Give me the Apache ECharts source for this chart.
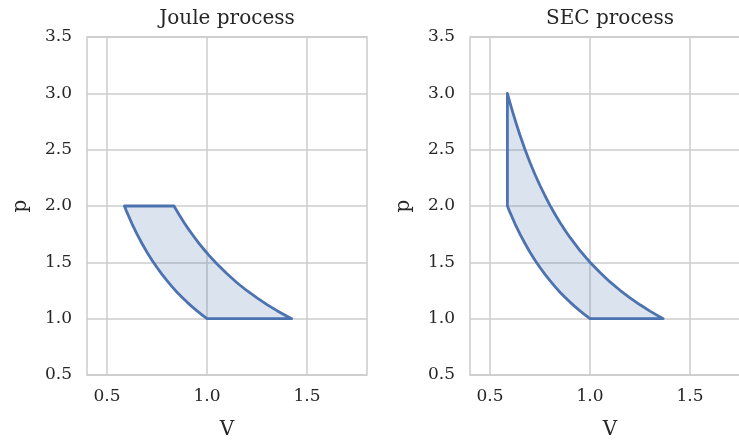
<!DOCTYPE html>
<html>
<head>
<meta charset="utf-8">
<script src="https://cdn.jsdelivr.net/npm/echarts@6/dist/echarts.min.js"></script>
<style>html,body{margin:0;padding:0;background:#fff}#c{width:739px;height:441px}</style>
</head>
<body>
<div id="c"></div>
<script>
// Joule process cycle outline (V, p), closed polygon
const jouleV = [1.000, 0.975, 0.950, 0.925, 0.900, 0.875, 0.850, 0.825, 0.800, 0.775, 0.750, 0.725, 0.700, 0.675, 0.650, 0.625, 0.600, 0.587,
                0.835, 0.860, 0.885, 0.910, 0.935, 0.960, 0.985, 1.010, 1.050, 1.100, 1.150, 1.200, 1.250, 1.300, 1.350, 1.400, 1.424];
const jouleP = [1.000, 1.034, 1.069, 1.107, 1.147, 1.190, 1.235, 1.284, 1.337, 1.393, 1.454, 1.519, 1.590, 1.667, 1.751, 1.842, 1.943, 2.000,
                2.000, 1.925, 1.854, 1.788, 1.727, 1.668, 1.614, 1.562, 1.485, 1.398, 1.319, 1.248, 1.184, 1.125, 1.071, 1.022, 1.000];
// SEC process cycle outline (V, p), closed polygon
const secV = [1.000, 0.975, 0.950, 0.925, 0.900, 0.875, 0.850, 0.825, 0.800, 0.775, 0.750, 0.725, 0.700, 0.675, 0.650, 0.625, 0.600, 0.587,
              0.587, 0.600, 0.615, 0.630, 0.650, 0.675, 0.700, 0.725, 0.750, 0.775, 0.800, 0.825, 0.850, 0.875, 0.900, 0.950, 1.000, 1.050, 1.100, 1.150, 1.200, 1.250, 1.300, 1.330, 1.366];
const secP = [1.000, 1.034, 1.069, 1.107, 1.147, 1.190, 1.235, 1.284, 1.337, 1.393, 1.454, 1.519, 1.590, 1.667, 1.751, 1.842, 1.943, 2.000,
              3.000, 2.916, 2.824, 2.737, 2.628, 2.502, 2.386, 2.280, 2.182, 2.091, 2.006, 1.927, 1.854, 1.785, 1.721, 1.604, 1.501, 1.409, 1.326, 1.252, 1.184, 1.123, 1.067, 1.036, 1.000];
const xTicks = [0.5, 1.0, 1.5];
const yTicks = [0.5, 1.0, 1.5, 2.0, 2.5, 3.0, 3.5];
const titles = ['Joule process', 'SEC process'];

const FONT = 'DejaVu Serif';
const TXT = '#262626';
const GRIDC = '#cccccc';
const LINEC = '#4c72b0';

function polySeries(V, P, idx) {
  const data = V.map((v, i) => [v, P[i]]);
  return {
    type: 'custom',
    xAxisIndex: idx, yAxisIndex: idx,
    data: data,
    clip: false,
    renderItem: function (params, api) {
      if (params.dataIndex !== 0) return null;
      const pts = data.map(d => api.coord(d));
      return {
        type: 'polygon',
        shape: { points: pts },
        style: { fill: 'rgba(76,114,176,0.2)', stroke: LINEC, lineWidth: 2.8, lineJoin: 'round' }
      };
    }
  };
}

function xAx(idx) {
  return {
    type: 'value', gridIndex: idx, min: 0.4, max: 1.8,
    name: 'V', nameLocation: 'middle', nameGap: 45,
    nameTextStyle: { fontFamily: FONT, fontSize: 20, color: TXT },
    axisLine: { show: false },
    axisTick: { show: false, customValues: xTicks },
    axisLabel: { customValues: xTicks, fontFamily: FONT, fontSize: 17, color: TXT, margin: 13,
      formatter: v => v.toFixed(1) },
    splitLine: { show: true, lineStyle: { color: GRIDC, width: 1.5 } }
  };
}
function yAx(idx) {
  return {
    type: 'value', gridIndex: idx, min: yTicks[0], max: yTicks[yTicks.length - 1], interval: 0.5,
    name: 'p', nameLocation: 'middle', nameGap: 56, nameRotate: 90,
    nameTextStyle: { fontFamily: FONT, fontSize: 20, color: TXT },
    axisLine: { show: false },
    axisTick: { show: false },
    axisLabel: { fontFamily: FONT, fontSize: 17, color: TXT, margin: 15,
      formatter: v => v.toFixed(1) },
    splitLine: { show: true, lineStyle: { color: GRIDC, width: 1.5 } }
  };
}

const chart = echarts.init(document.getElementById('c'));
chart.setOption({
  backgroundColor: '#ffffff',
  animation: false,
  graphic: [
    { type: 'text', x: 227, y: 9, style: { text: titles[0], textAlign: 'center', fontFamily: FONT, fontSize: 20, fill: TXT } },
    { type: 'text', x: 610, y: 9, style: { text: titles[1], textAlign: 'center', fontFamily: FONT, fontSize: 20, fill: TXT } }
  ],
  grid: [
    { left: 87, top: 37, width: 280, height: 338, outerBoundsMode: 'none', containLabel: false, show: true, borderColor: GRIDC, borderWidth: 1.5, backgroundColor: 'transparent' },
    { left: 470, top: 37, width: 280, height: 338, outerBoundsMode: 'none', containLabel: false, show: true, borderColor: GRIDC, borderWidth: 1.5, backgroundColor: 'transparent' }
  ],
  xAxis: [xAx(0), xAx(1)],
  yAxis: [yAx(0), yAx(1)],
  series: [polySeries(jouleV, jouleP, 0), polySeries(secV, secP, 1)]
});
</script>
</body>
</html>
